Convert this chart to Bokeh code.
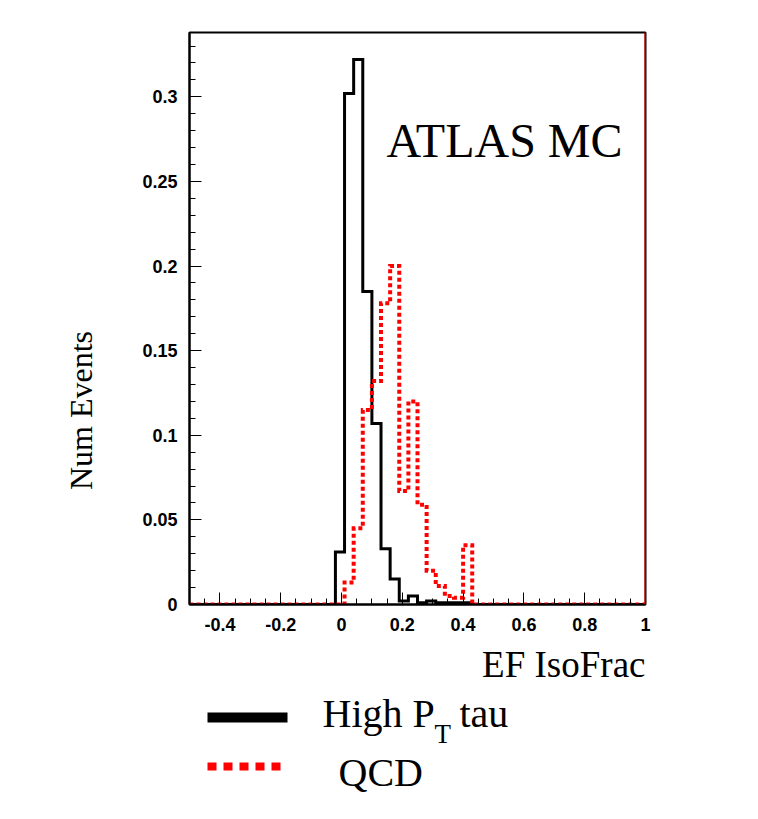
import numpy as np
from bokeh.plotting import figure
from bokeh.layouts import row, column
from bokeh.models import Range1d, SingleIntervalTicker, CustomJSTickFormatter, Label, Span
from bokeh.core.properties import value
from bokeh.embed import file_html
from bokeh.resources import INLINE

# ---------------- data ----------------
bin_lo = -0.5
bin_hi = 1.0
n_bins = 50  # bin width 0.03

tau_values = [0, 0, 0, 0, 0, 0, 0, 0, 0, 0,
              0, 0, 0, 0, 0, 0, 0.031, 0.302, 0.322, 0.185,
              0.107, 0.033, 0.015, 0.002, 0.005, 0.001, 0.002, 0.001, 0.001, 0.001,
              0.001, 0, 0, 0, 0, 0, 0, 0, 0, 0,
              0, 0, 0, 0, 0, 0, 0, 0, 0, 0]

qcd_values = [0, 0, 0, 0, 0, 0, 0, 0, 0, 0,
              0, 0, 0, 0, 0, 0, 0, 0.013, 0.045, 0.115,
              0.132, 0.178, 0.200, 0.067, 0.120, 0.059, 0.020, 0.011, 0.005, 0.004,
              0.035, 0, 0, 0, 0, 0, 0, 0, 0, 0,
              0, 0, 0, 0, 0, 0, 0, 0, 0, 0]

x_title = "EF IsoFrac"
y_title = "Num Events"
label_text = "ATLAS MC"
legend_main = ["High P", "QCD"]
legend_sub = "T"
legend_tail = "tau"

edges = np.linspace(bin_lo, bin_hi, n_bins + 1)

serif = "Liberation Serif"
W, H = 758, 819
LEFT_W = 120
MAIN_H = 640
FRAME_L, FRAME_R = 189, 645

# ---------------- left strip (y title) ----------------
pl = figure(width=LEFT_W, height=H, output_backend="svg", toolbar_location=None,
            x_range=Range1d(0, LEFT_W), y_range=Range1d(-H, 0),
            x_axis_type=None, y_axis_type=None, min_border=0)
pl.outline_line_color = None
pl.grid.visible = False
pl.text(x=[80], y=[-410], text=[y_title], angle=np.pi / 2,
        text_align="center", text_baseline="middle",
        text_font=value(serif), text_font_size="32px", text_color="black")

# ---------------- main plot ----------------
p = figure(width=W - LEFT_W, height=MAIN_H, output_backend="svg",
           toolbar_location=None,
           x_range=Range1d(bin_lo, bin_hi), y_range=Range1d(0, 0.338),
           min_border_left=FRAME_L - LEFT_W, min_border_right=W - FRAME_R,
           min_border_top=32, min_border_bottom=MAIN_H - 604)
p.grid.visible = False
p.background_fill_color = "white"
p.border_fill_color = "white"
p.outline_line_color = "black"
p.outline_line_width = 2

fmt = CustomJSTickFormatter(code="return String(parseFloat(tick.toFixed(3)));")
p.xaxis.ticker = SingleIntervalTicker(interval=0.2, num_minor_ticks=4)
p.yaxis.ticker = SingleIntervalTicker(interval=0.05, num_minor_ticks=5)
for ax in (p.xaxis, p.yaxis):
    ax.formatter = fmt
    ax.axis_line_color = "black"
    ax.axis_line_width = 2
    ax.major_tick_in = 12
    ax.major_tick_out = 0
    ax.minor_tick_in = 6
    ax.minor_tick_out = 0
    ax.major_tick_line_color = "black"
    ax.minor_tick_line_color = "black"
    ax.major_label_text_font = "Liberation Sans"
    ax.major_label_text_font_style = "bold"
    ax.major_label_text_font_size = "18px"
    ax.major_label_text_color = "black"
p.yaxis.major_label_standoff = 12
p.xaxis.major_label_standoff = 13

tau_y = list(tau_values) + [0]
qcd_y = list(qcd_values) + [0]
p.step(edges, tau_y, mode="after", line_color="black", line_width=3, line_join="miter")
p.step(edges, qcd_y, mode="after", line_color="red", line_width=4,
       line_dash="4 3", line_join="miter")

p.add_layout(Span(location=bin_hi, dimension="height", line_color="red", line_width=2))

p.add_layout(Label(x=0.148, y=0.274, text=label_text, text_font=serif,
                   text_font_size="48px", text_color="black",
                   text_baseline="alphabetic"))

# ---------------- bottom strip (x title + legend) ----------------
# the strip's frame is aligned with the main frame, so its x range spans the
# frame's pixel columns and its y range the strip's pixel rows
LEG_H = H - MAIN_H
pb = figure(width=W - LEFT_W, height=LEG_H, output_backend="svg",
            toolbar_location=None,
            x_range=Range1d(FRAME_L, FRAME_R), y_range=Range1d(-H, -MAIN_H),
            x_axis_type=None, y_axis_type=None, min_border=0)
pb.outline_line_color = None
pb.grid.visible = False

pb.text(x=[645], y=[-664], text=[x_title], text_align="right",
        text_baseline="alphabetic", text_font=value(serif),
        text_font_size="37px", text_color="black")

pb.line(x=[207, 287], y=[-717, -717], line_color="black", line_width=10)
pb.line(x=[207, 287], y=[-766, -766], line_color="red", line_width=8,
        line_dash="9 7")

pb.text(x=[322], y=[-713], text=[legend_main[0]], text_baseline="alphabetic",
        text_font=value(serif), text_font_size="40px", text_color="black")
pb.text(x=[434], y=[-733], text=[legend_sub], text_baseline="alphabetic",
        text_font=value(serif), text_font_size="27px", text_color="black")
pb.text(x=[459], y=[-713], text=[legend_tail], text_baseline="alphabetic",
        text_font=value(serif), text_font_size="40px", text_color="black")
pb.text(x=[338], y=[-772], text=[legend_main[1]], text_baseline="alphabetic",
        text_font=value(serif), text_font_size="40px", text_color="black")

layout = row(pl, column(p, pb))
open("out.html", "w").write(file_html(layout, INLINE))
